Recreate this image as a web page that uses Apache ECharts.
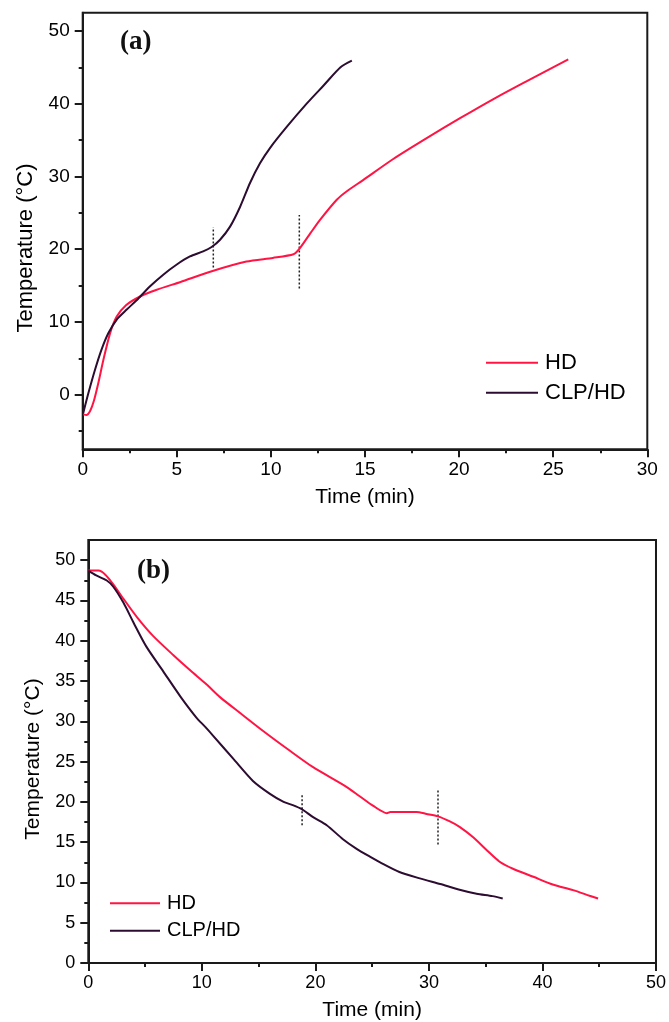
<!DOCTYPE html>
<html>
<head>
<meta charset="utf-8">
<script src="https://cdn.jsdelivr.net/npm/echarts@6/dist/echarts.min.js"></script>
<style>
html,body{margin:0;padding:0;background:#fff;}
#chart{width:669px;height:1022px;}
</style>
</head>
<body>
<div id="chart"></div>
<script>
// ---------- data (time min, temperature °C) ----------
const hdHeating = [[0.03,-2.7],[0.2,-2.8],[0.4,-2.2],[0.6,-0.8],[0.83,1.6],[1.1,4.8],[1.45,8.4],[1.8,10.7],[2.3,12.3],[3.05,13.5],[3.9,14.4],[5.2,15.5],[6.9,17.0],[8.7,18.3],[10.1,18.8],[11.2,19.3],[11.5,20.0],[12.1,22.2],[12.6,24.0],[13.5,26.8],[14.0,27.9],[14.9,29.5],[16.5,32.4],[18.3,35.3],[20.05,38.0],[21.8,40.6],[23.6,43.1],[25.8,46.1]];
const clpHeating = [[0.03,-2.5],[0.3,0.2],[0.65,3.4],[1.0,6.2],[1.36,8.45],[1.8,10.3],[2.34,11.7],[2.95,13.2],[3.58,14.9],[4.28,16.5],[5.0,17.9],[5.7,19.0],[6.4,19.7],[6.85,20.3],[7.3,21.3],[7.83,23.1],[8.36,25.8],[8.89,29.1],[9.42,31.8],[9.95,33.9],[10.84,36.8],[11.9,40.0],[12.8,42.5],[13.7,45.0],[14.3,45.9]];
const hdCooling = [[0,48.7],[0.9,48.7],[1.5,48.2],[2.2,47.0],[3.1,45.2],[4.3,42.9],[5.7,40.6],[7.5,38.2],[9.0,36.3],[10.4,34.6],[11.6,33.0],[13.4,31.0],[15.4,28.8],[17.7,26.4],[19.8,24.3],[22.7,21.9],[23.9,20.7],[25.1,19.5],[26.3,18.6],[26.6,18.75],[28.9,18.75],[29.8,18.5],[30.8,18.2],[31.8,17.6],[32.7,16.9],[33.9,15.6],[35.1,14.0],[36.2,12.6],[37.4,11.7],[39.2,10.7],[40.9,9.75],[42.7,9.05],[44.15,8.35],[44.9,8.0]];
const clpCooling = [[0,48.7],[0.7,48.1],[1.6,47.5],[2.2,46.7],[3.1,44.7],[4.0,42.2],[5.1,39.3],[6.6,36.2],[8.1,33.1],[9.5,30.5],[10.3,29.3],[11.0,28.2],[12.8,25.3],[14.5,22.6],[16.0,21.0],[17.2,20.0],[18.0,19.6],[18.8,19.1],[19.8,18.1],[21.0,17.1],[22.4,15.4],[23.6,14.2],[24.8,13.2],[25.7,12.5],[27.4,11.3],[29.2,10.5],[31.0,9.8],[32.7,9.1],[34.2,8.6],[35.6,8.3],[36.5,8.0]];
// phase-change markers
const markA1 = [[6.94,17.5],[6.94,23.0]];
const markA2 = [[11.51,14.6],[11.51,24.7]];
const markB1 = [[18.83,17.1],[18.83,21.0]];
const markB2 = [[30.8,14.7],[30.8,21.4]];
// ticks / labels
const seriesNames = ['HD','CLP/HD'];
const yTicksA = [0,10,20,30,40,50];
const yMinorA = [-5,5,15,25,35,45];
const yTicksB = [0,5,10,15,20,25,30,35,40,45,50];
const yMinorB = [2.5,7.5,12.5,17.5,22.5,27.5,32.5,37.5,42.5,47.5];
const panelLabels = ['(a)','(b)'];
const xTitle = 'Time (min)';
const yTitle = 'Temperature (\u00B0C)';

const FONT = '"Liberation Sans", Arial, sans-serif';
const AX = '#1a1a1a';
const HD_COLOR = '#ff1444';
const CLP_COLOR = '#2c0c30';

const chart = echarts.init(document.getElementById('chart'), null, {renderer:'canvas'});

function xAxisCfg(grid, max, interval, nameGap, fs){
  return {
    gridIndex:grid, type:'value', min:0, max:max, interval:interval,
    name:xTitle, nameLocation:'middle', nameGap:nameGap,
    nameTextStyle:{fontFamily:FONT, fontSize:21, color:'#000'},
    axisLine:{onZero:false, lineStyle:{color:AX, width:2}},
    axisTick:{inside:false, length:8, lineStyle:{color:AX, width:2}},
    minorTick:{show:true, splitNumber:2, length:4, lineStyle:{color:AX, width:2}},
    splitLine:{show:false}, minorSplitLine:{show:false},
    axisLabel:{fontFamily:FONT, fontSize:fs, color:'#000', margin:11}
  };
}
function yAxisMain(grid, min, max, ticks, nameGap, fs, nfs, shiftPad){
  return {
    gridIndex:grid, type:'value', min:min, max:max, position:'left',
    name:yTitle, nameLocation:'middle', nameGap:nameGap,
    nameTextStyle:{fontFamily:FONT, fontSize:nfs, color:'#000', padding:[0,shiftPad,0,0]},
    axisLine:{onZero:false, lineStyle:{color:AX, width:2}},
    axisTick:{inside:false, length:8, customValues:ticks, lineStyle:{color:AX, width:2}},
    splitLine:{show:false},
    axisLabel:{fontFamily:FONT, fontSize:fs, color:'#000', margin:13, customValues:ticks}
  };
}
function yAxisMinor(grid, min, max, ticks){
  return {
    gridIndex:grid, type:'value', min:min, max:max, position:'left', offset:0,
    axisLine:{show:false, onZero:false},
    axisTick:{inside:false, length:4, customValues:ticks, lineStyle:{color:AX, width:2}},
    splitLine:{show:false},
    axisLabel:{show:false}
  };
}
function curve(name, data, color, xi, yi){
  return {name:name, type:'line', data:data, xAxisIndex:xi, yAxisIndex:yi,
    showSymbol:false, symbol:'none', smooth:0.25, color:color,
    lineStyle:{color:color, width:2}, z:3, silent:true};
}
function marker(data, xi, yi){
  return {type:'line', data:data, xAxisIndex:xi, yAxisIndex:yi, symbol:'none',
    lineStyle:{color:'#222', width:1.5, type:[2,2]}, z:2, silent:true};
}

const option = {
  animation:false,
  backgroundColor:'#fff',
  grid:[
    {left:82.7, top:12.7, width:564.6, height:436.6, show:true, borderColor:AX, borderWidth:2},
    {left:88.3, top:540, width:568.2, height:425, show:true, borderColor:AX, borderWidth:2}
  ],
  xAxis:[ xAxisCfg(0, 30, 5, 37, 19), xAxisCfg(1, 50, 10, 37, 18) ],
  yAxis:[
    yAxisMain(0, -7.5, 52.5, yTicksA, 46, 19, 22, 34),
    yAxisMinor(0, -7.5, 52.5, yMinorA),
    yAxisMain(1, 0, 52.5, yTicksB, 45, 18, 21, 15),
    yAxisMinor(1, 0, 52.5, yMinorB)
  ],
  legend:[
    {data:seriesNames, orient:'vertical', left:486, top:351.7, padding:0, itemGap:8,
     itemWidth:52, itemHeight:2, icon:'rect', selectedMode:false,
     textStyle:{fontFamily:FONT, fontSize:22, lineHeight:22, color:'#000', padding:[0,0,0,2]}},
    {data:seriesNames, orient:'vertical', left:110, top:893.3, padding:0, itemGap:7.4,
     itemWidth:50, itemHeight:2, icon:'rect', selectedMode:false,
     textStyle:{fontFamily:FONT, fontSize:20, lineHeight:20, color:'#000', padding:[0,0,0,2]}}
  ],
  graphic:[
    {type:'text', left:120, top:29, style:{text:panelLabels[0], font:'bold 27px "Liberation Serif", "Times New Roman", serif', fill:'#111'}},
    {type:'text', left:137, top:558, style:{text:panelLabels[1], font:'bold 27px "Liberation Serif", "Times New Roman", serif', fill:'#111'}}
  ],
  series:[
    curve(seriesNames[0], hdHeating, HD_COLOR, 0, 0),
    curve(seriesNames[1], clpHeating, CLP_COLOR, 0, 0),
    marker(markA1, 0, 0),
    marker(markA2, 0, 0),
    curve(seriesNames[0], hdCooling, HD_COLOR, 1, 2),
    curve(seriesNames[1], clpCooling, CLP_COLOR, 1, 2),
    marker(markB1, 1, 2),
    marker(markB2, 1, 2)
  ]
};
chart.setOption(option);
</script>
</body>
</html>
